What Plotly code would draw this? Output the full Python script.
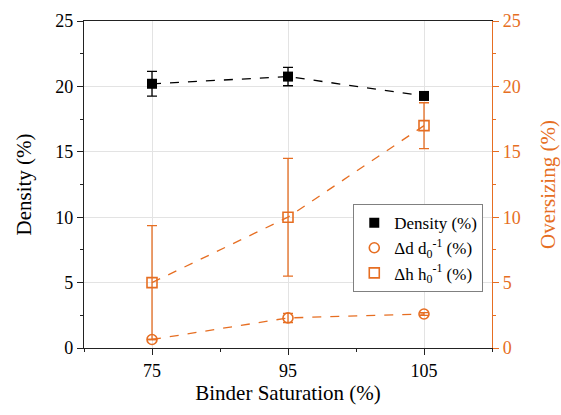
import plotly.graph_objects as go
import numpy as np

# Binder saturation levels (%)
saturation = ["75", "95", "105"]

# Density (%) with standard deviation
density = [20.2, 20.75, 19.27]
density_err = [0.95, 0.7, 0.0]

# Diameter oversizing Δd/d0 (%)
dd = [0.65, 2.3, 2.6]
dd_err = [0.0, 0.35, 0.1]

# Height oversizing Δh/h0 (%)
dh = [5.0, 10.0, 17.0]
dh_err = [4.35, 4.5, 1.75]

ORANGE = "#E66E22"
FONT = "Liberation Serif, Times New Roman, serif"

x_pos = np.arange(len(saturation))

series = [
    dict(y=density, err=density_err, name="Density (%)", axis="y", color="black",
         marker=dict(symbol="square", size=10, color="black")),
    dict(y=dd, err=dd_err, name="Δd d<sub>0</sub><sup>-1</sup> (%)", axis="y2", color=ORANGE,
         marker=dict(symbol="circle-open", size=10, color=ORANGE, line=dict(width=1.6))),
    dict(y=dh, err=dh_err, name="Δh h<sub>0</sub><sup>-1</sup> (%)", axis="y2", color=ORANGE,
         marker=dict(symbol="square-open", size=10, color=ORANGE, line=dict(width=1.6))),
]

fig = go.Figure()

for s in series:
    # data with dashed connecting line and error bars
    fig.add_trace(go.Scatter(
        x=x_pos, y=s["y"], mode="lines+markers", yaxis=s["axis"], showlegend=False,
        line=dict(color=s["color"], dash="dash", width=1.3),
        marker=s["marker"],
        error_y=dict(type="data", array=s["err"], color=s["color"], thickness=1.3, width=5),
    ))
    # marker-only legend entry
    fig.add_trace(go.Scatter(
        x=[None], y=[None], mode="markers", yaxis=s["axis"], name=s["name"],
        marker=s["marker"],
    ))

fig.update_layout(
    width=561, height=415,
    margin=dict(l=84, r=69, t=21, b=67),
    paper_bgcolor="white", plot_bgcolor="white",
    font=dict(family=FONT, size=18, color="black"),
    showlegend=True,
    legend=dict(
        x=0.66, y=0.44, xanchor="left", yanchor="top",
        bgcolor="white", bordercolor="#808080", borderwidth=1,
        font=dict(family=FONT, size=17, color="black"),
        tracegroupgap=0, itemwidth=30,
    ),
    xaxis=dict(
        range=[-0.5, 2.5], tickvals=x_pos, ticktext=saturation, automargin=False,
        showgrid=True, gridcolor="#e3e3e3", gridwidth=1,
        showline=True, linecolor="#222", linewidth=1.3, mirror=True,
        ticks="outside", ticklen=6, tickcolor="#222", tickwidth=1.3,
        minor=dict(dtick=0.5, tick0=0, ticks="outside", ticklen=3, tickcolor="#222", showgrid=False),
        zeroline=False,
        title=dict(text="Binder Saturation (%)", font=dict(size=21), standoff=4),
    ),
    yaxis=dict(
        range=[0, 25], dtick=5, automargin=False,
        showgrid=True, gridcolor="#e3e3e3", gridwidth=1,
        showline=True, linecolor="#222", linewidth=1.3,
        ticks="outside", ticklen=6, tickcolor="#222", tickwidth=1.3,
        minor=dict(dtick=2.5, ticks="outside", ticklen=3, tickcolor="#222", showgrid=False),
        zeroline=False,
        title=dict(text="Density (%)", font=dict(size=21), standoff=17),
    ),
    yaxis2=dict(
        range=[0, 25], dtick=5, overlaying="y", side="right", automargin=False,
        showgrid=False,
        showline=True, linecolor=ORANGE, linewidth=1.3,
        ticks="outside", ticklen=6, tickcolor=ORANGE, tickwidth=1.3,
        minor=dict(dtick=2.5, ticks="outside", ticklen=3, tickcolor=ORANGE, showgrid=False),
        tickfont=dict(color=ORANGE),
        zeroline=False,
        title=dict(text="Oversizing (%)", font=dict(size=21, color=ORANGE), standoff=20),
    ),
)

fig.write_html("out.html")
